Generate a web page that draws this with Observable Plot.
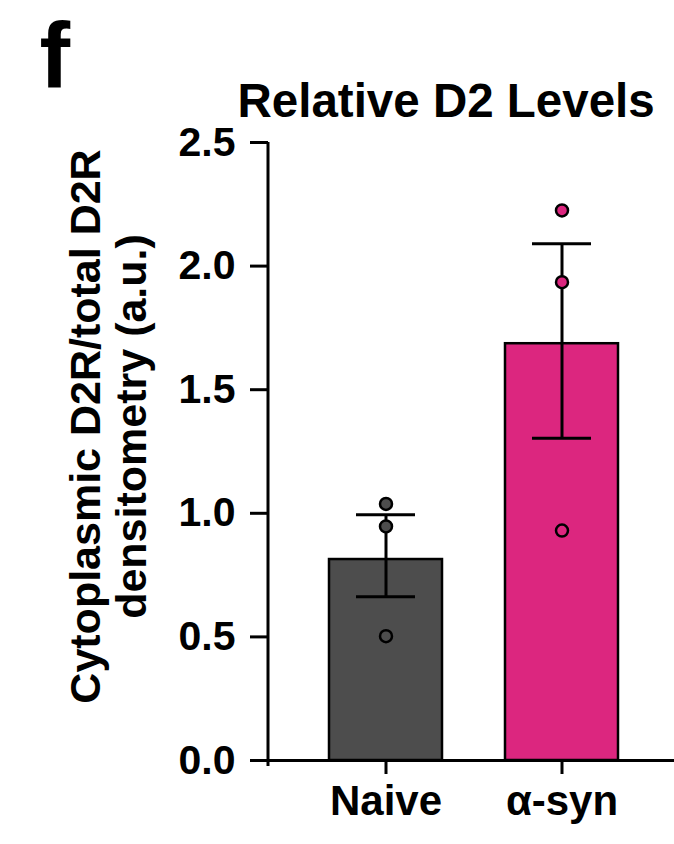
<!DOCTYPE html>
<html>
<head>
<meta charset="utf-8">
<script src="https://cdn.jsdelivr.net/npm/d3@7"></script>
<script src="https://cdn.jsdelivr.net/npm/@observablehq/plot@0.6"></script>
<style>
  html, body { margin: 0; padding: 0; background: #ffffff; }
  #chart svg { display: block; }
</style>
</head>
<body>
<div id="chart"></div>
<script>
// ---- data ----
const panelLetter = "f";
const chartTitle = "Relative D2 Levels";
const yLabelLines = ["Cytoplasmic D2R/total D2R", "densitometry (a.u.)"];
const groups = ["Naive", "α-syn"];
const groupColors = ["#4d4d4d", "#dc267f"];
const means = [0.813, 1.686];
const errLow = [0.662, 1.304];
const errHigh = [0.994, 2.090];
const naivePoints = [1.038, 0.947, 0.503];
const asynPoints = [2.225, 1.935, 0.930];
const yTicks = [0, 0.5, 1.0, 1.5, 2.0, 2.5];

// ---- tables built from the arrays ----
const bars = groups.map((g, i) => ({group: g, mean: means[i], lo: errLow[i], hi: errHigh[i]}));
const points = [
  ...naivePoints.map(v => ({group: groups[0], value: v})),
  ...asynPoints.map(v => ({group: groups[1], value: v}))
];

const FONT = "'Liberation Sans', Arial, Helvetica, sans-serif";

// left axis line drawn through the plot's own scales
function yAxisLine(index, scales, values, dims) {
  const y = scales.y;
  return d3.create("svg:line")
    .attr("x1", dims.marginLeft).attr("x2", dims.marginLeft)
    .attr("y1", y(yTicks[yTicks.length - 1]))
    .attr("y2", y(0) + 6)
    .attr("stroke", "black").attr("stroke-width", 3)
    .node();
}

const chart = Plot.plot({
  width: 674,
  height: 844,
  marginTop: 142,
  marginBottom: 84,
  marginLeft: 268,
  marginRight: 0,
  style: {fontFamily: FONT, color: "black", background: "white", overflow: "visible"},
  x: {domain: groups, paddingInner: 0.36, paddingOuter: 0.33, align: 0.524, label: null},
  y: {domain: [0, 2.5], label: null},
  color: {domain: groups, range: groupColors},
  marks: [
    Plot.barY(bars, {x: "group", y: "mean", fill: "group", stroke: "black", strokeWidth: 2.5}),
    Plot.ruleX(bars, {x: "group", y1: "lo", y2: "hi", stroke: "black", strokeWidth: 3}),
    Plot.tickY(bars, {x: "group", y: "hi", stroke: "black", strokeWidth: 3, insetLeft: 27, insetRight: 27}),
    Plot.tickY(bars, {x: "group", y: "lo", stroke: "black", strokeWidth: 3, insetLeft: 27, insetRight: 27}),
    Plot.dot(points, {x: "group", y: "value", fill: "group", stroke: "black", strokeWidth: 2.5, r: 6}),
    Plot.ruleY([0], {stroke: "black", strokeWidth: 3}),
    yAxisLine,
    Plot.axisY({ticks: yTicks, tickFormat: d3.format(".1f"), tickSize: 18, tickPadding: 15,
      fontSize: 41, fontWeight: "bold", strokeWidth: 3, label: null}),
    Plot.axisX({tickSize: 14, tickPadding: 11, fontSize: 42, fontWeight: "bold", strokeWidth: 3, label: null}),
    Plot.text([chartTitle], {frameAnchor: "top-left", textAnchor: "start", lineAnchor: "bottom",
      dx: -31, dy: -26, fontSize: 47.5, fontWeight: "bold", fill: "black"}),
    Plot.text([panelLetter], {frameAnchor: "top-left", textAnchor: "start", lineAnchor: "bottom",
      dx: -229, dy: -56, fontSize: 92, fontWeight: "bold", fill: "black"}),
    Plot.text([yLabelLines.join("\n")], {frameAnchor: "left", rotate: -90, textAnchor: "middle", lineAnchor: "middle",
      dx: -160, dy: -25, fontSize: 43, fontWeight: "bold", lineHeight: 1.05, fill: "black"})
  ]
});

document.getElementById("chart").appendChild(chart);
</script>
</body>
</html>
